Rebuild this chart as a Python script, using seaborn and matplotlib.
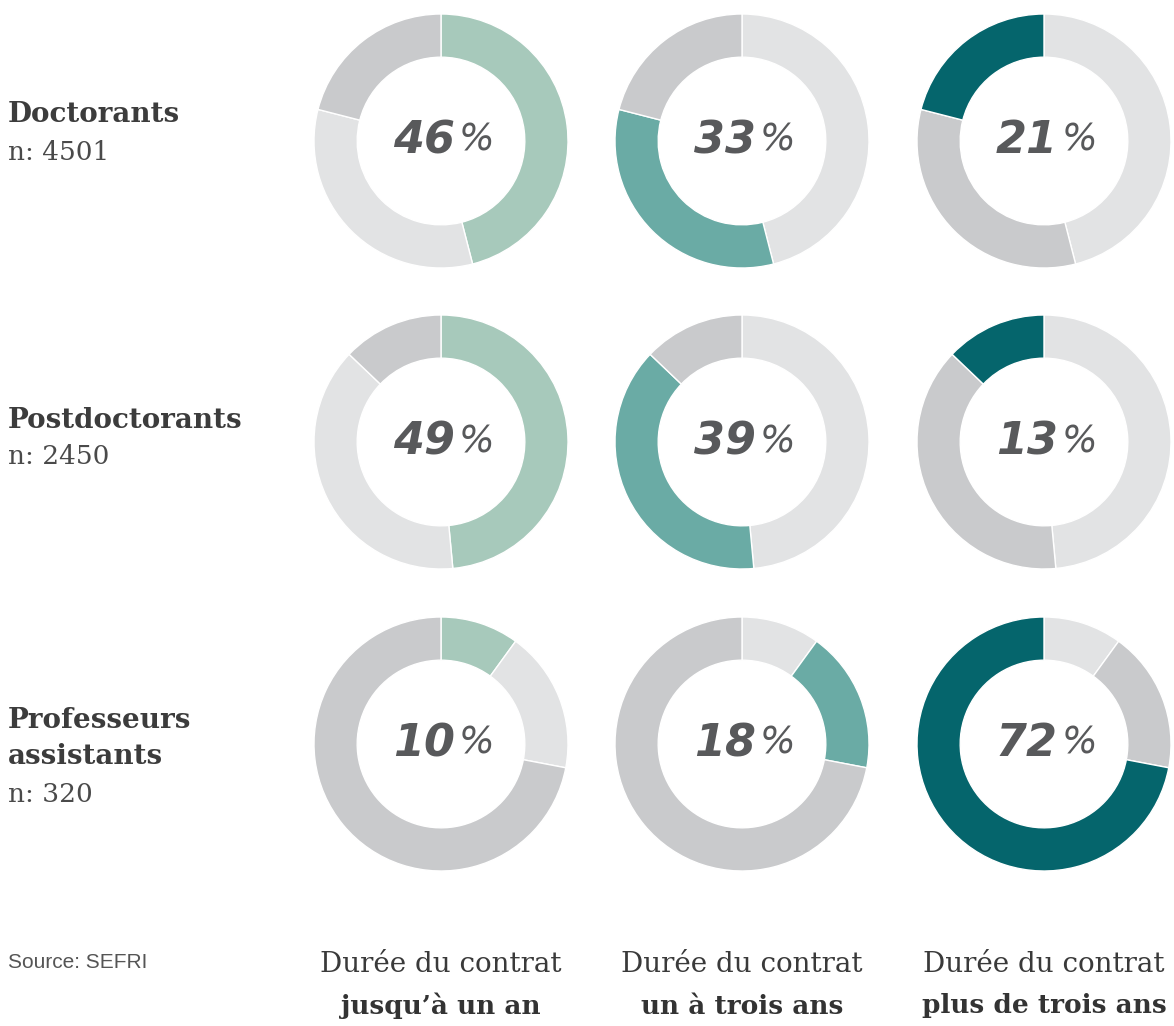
import matplotlib
matplotlib.use("Agg")
import matplotlib.pyplot as plt
import seaborn as sns

# data
groups = ["Doctorants", "Postdoctorants", "Professeurs\nassistants"]
group_n = ["n: 4501", "n: 2450", "n: 320"]
durations = ["jusqu\u2019à un an", "un à trois ans", "plus de trois ans"]
shares = [
    [46, 33, 21],
    [49, 39, 13],
    [10, 18, 72],
]

highlight = ["#a7c9bb", "#6aaba5", "#05656c"]
gray_light = "#e2e3e4"
gray_mid = "#c9cacc"

sns.set_theme(style="white")

W, H = 1174, 1026
fig = plt.figure(figsize=(W / 100, H / 100), dpi=100)

col_x = [441, 742, 1044]
row_y = [141, 442, 744]
R = 127      # outer radius px
half = 1.3   # axes half-extent in data units
size = 2 * half * R

for i, row in enumerate(shares):
    for j in range(3):
        ax = fig.add_axes([(col_x[j] - size / 2) / W, 1 - (row_y[i] + size / 2) / H,
                           size / W, size / H])
        cols = []
        grays = iter([gray_light, gray_mid])
        for k in range(3):
            cols.append(highlight[j] if k == j else next(grays))
        ax.pie(row, colors=cols, startangle=90, counterclock=False, radius=1,
               wedgeprops=dict(width=0.34, edgecolor="white", linewidth=1))
        ax.set_xlim(-half, half)
        ax.set_ylim(-half, half)
        ax.set_aspect("equal")
        ax.axis("off")
        # number heavy, percent sign lighter
        ax.annotate(f"{row[j]}", (0, 0), xytext=(10, 0), textcoords="offset points",
                    ha="right", va="center", fontsize=32, fontweight="heavy",
                    fontstyle="italic", family="DejaVu Sans", color="#58595b")
        ax.annotate("%", (0, 0), xytext=(13, 0), textcoords="offset points",
                    ha="left", va="center", fontsize=27, fontweight="normal",
                    fontstyle="italic", family="DejaVu Sans", color="#58595b")

# row labels
label_y = [[115, 152], [420, 457], [720, 757, 794]]
for i in range(3):
    lines = groups[i].split("\n")
    ys = label_y[i]
    for k, t in enumerate(lines):
        fig.text(8 / W, 1 - ys[k] / H, t, ha="left", va="center", fontsize=20,
                 fontweight="bold", family="DejaVu Serif", color="#3c3c3c")
    fig.text(8 / W, 1 - ys[-1] / H, group_n[i], ha="left", va="center", fontsize=19,
             family="DejaVu Serif", color="#4a4a4a")

# column labels
for j in range(3):
    fig.text(col_x[j] / W, 1 - 965 / H, "Durée du contrat", ha="center", va="center",
             fontsize=20, family="DejaVu Serif", color="#3a3a3a")
    fig.text(col_x[j] / W, 1 - 1006 / H, durations[j], ha="center", va="center",
             fontsize=19, fontweight="bold", family="DejaVu Serif", color="#333333")

fig.text(8 / W, 1 - 963 / H, "Source: SEFRI", ha="left", va="center", fontsize=15,
         family="Liberation Sans", color="#555555")

fig.savefig("out.png", dpi=100, facecolor="white")
